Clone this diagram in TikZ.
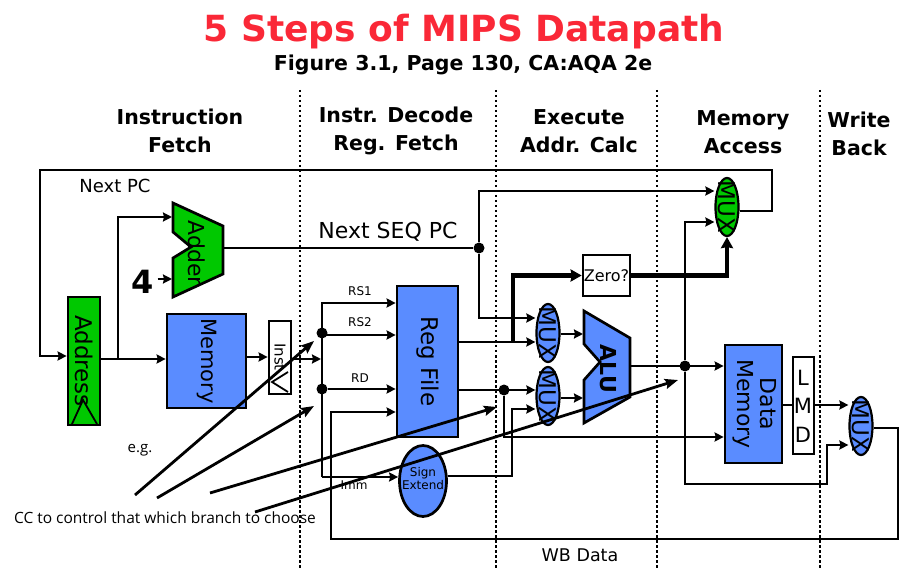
\documentclass[tikz,border=0pt]{standalone}
\usepackage{fontspec}
\usepackage{graphicx}
\usetikzlibrary{arrows.meta,shapes.geometric}
\setmainfont{DejaVu Sans}
\newfontfamily\notefont{Open Sans}
\definecolor{stepgreen}{RGB}{0,200,0}
\definecolor{stepblue}{RGB}{90,140,255}
\definecolor{titlered}{RGB}{250,40,55}
\newcommand{\vtext}[1]{\rotatebox{-90}{#1}}
\newcommand{\px}[1]{\fontsize{#1}{#1}\selectfont}
\tikzset{
  wire/.style={line width=2.7pt},
  arr/.style={wire,-{Stealth[length=9pt,width=9pt,inset=1pt]}},
  thickarr/.style={line width=4.2pt,-{Stealth[length=11pt,width=12pt,inset=1pt]}},
  note/.style={line width=2.8pt,-{Stealth[length=13pt,width=10pt,inset=2pt]}},
  stage/.style={line width=2.6pt,dash pattern=on 2.5pt off 2.5pt},
  box/.style={draw,line width=2.7pt,inner sep=0pt},
  muxnode/.style={draw,ellipse,line width=2.2pt,inner sep=0pt,minimum width=23pt,minimum height=58pt,fill=stepblue,
    label={[font=\px{23},inner sep=0pt]center:\vtext{MUX}}},
  dotnode/.style={circle,fill=black,inner sep=0pt,minimum size=11pt},
  head/.style={font=\bfseries\fontsize{20.5}{28}\selectfont,align=center},
  small/.style={font=\px{12}},
  mid/.style={font=\px{18}}
}
\begin{document}
\begin{tikzpicture}[x=1pt,y=-1pt]
    \useasboundingbox (0,0) rectangle (921,569);

    \draw[stage] (300,90) -- (300,569);
    \draw[stage] (496,90) -- (496,569);
    \draw[stage] (657,90) -- (657,569);
    \draw[stage] (820,90) -- (820,569);

    \node[font=\bfseries\px{36},text=titlered] (title) at (464,32) {5 Steps of MIPS Datapath};
    \node[font=\bfseries\px{20.5}] (subtitle) at (463,65) {Figure 3.1, Page 130, CA:AQA 2e};
    \node[head] (ifetch) at (180,131) {Instruction\\Fetch};
    \node[head] (idecode) at (396,131) {Instr. Decode\\Reg. Fetch};
    \node[head] (iexec) at (579,131) {Execute\\Addr. Calc};
    \node[head] (imem) at (743,132) {Memory\\Access};
    \node[head] (iback) at (859,134) {Write\\Back};

    \node[box,fill=stepgreen,minimum width=32pt,minimum height=128pt,font=\px{23}] (address) at (84,361) {\vtext{Address}};
    \node[box,fill=stepblue,minimum width=79pt,minimum height=94pt,font=\px{21}] (memory) at (206.5,361) {\vtext{Memory}};
    \node[box,fill=white,minimum width=22pt,minimum height=73pt] (inst) at (280,357.5) {};
    \node[font=\px{15}] (instlbl) at (280,357) {\vtext{Inst}};
    \node[box,fill=stepblue,minimum width=61pt,minimum height=151pt,font=\px{23}] (regfile) at (427.5,361.5) {\vtext{Reg File}};
    \node[draw,ellipse,line width=2.7pt,fill=stepblue,inner sep=0pt,minimum width=47pt,minimum height=71pt] (signext) at (423,481) {};
    \node[align=center,font=\px{12}] (signlbl) at (423,479) {Sign\\[1pt]Extend};
    \node[box,fill=white,minimum width=47pt,minimum height=41pt,font=\px{16}] (zero) at (606.5,275.5) {Zero?};
    \node[box,fill=stepblue,minimum width=57pt,minimum height=118pt,align=center,font=\px{22}] (datamem) at (753.5,404) {\vtext{\begin{tabular}{@{}c@{}}Data\\Memory\end{tabular}}};
    \node[box,fill=white,minimum width=21pt,minimum height=97pt] (lmd) at (803.5,405.5) {};
    \node[font=\px{21}] (lmdl) at (803,378) {L};
    \node[font=\px{21}] (lmdm) at (803,406) {M};
    \node[font=\px{21}] (lmdd) at (803,435) {D};

    \node[muxnode,fill=stepgreen] (muxpc) at (727,207) {};
    \node[muxnode] (muxa) at (548,333) {};
    \node[muxnode] (muxb) at (548,396) {};
    \node[muxnode] (muxwb) at (861,426) {};

    \coordinate (A1) at (173,203);
    \coordinate (A2) at (223,226);
    \coordinate (A3) at (223,274);
    \coordinate (A4) at (173,297);
    \coordinate (A5) at (173,258);
    \coordinate (A6) at (191,247);
    \coordinate (A7) at (173,232);
    \draw[wire,fill=stepgreen] (A1) -- (A2) -- (A3) -- (A4) -- (A5) -- (A6) -- (A7) -- cycle;
    \node[font=\px{22}] (adderlbl) at (197,253) {\vtext{Adder}};

    \coordinate (B1) at (584,311);
    \coordinate (B2) at (630,338);
    \coordinate (B3) at (630,397);
    \coordinate (B4) at (584,423);
    \coordinate (B5) at (584,380);
    \coordinate (B6) at (600,362);
    \coordinate (B7) at (584,344);
    \draw[wire,fill=stepblue] (B1) -- (B2) -- (B3) -- (B4) -- (B5) -- (B6) -- (B7) -- cycle;
    \node[font=\bfseries\px{22}] (alulbl) at (608,369) {\vtext{ALU}};

    \draw[line width=1.8pt] (72,424) -- (83,400) -- (97,424);
    \draw[line width=1.8pt] (288,372) -- (272,382) -- (288,392);

    \node[font=\bfseries\px{32}] (four) at (143,282) {4};
    \node[dotnode] (dotseq) at (479,248) {};
    \node[dotnode] (dotrs) at (322,333) {};
    \node[dotnode] (dotrd) at (322,389) {};
    \node[dotnode] (dotreg) at (504,390) {};
    \node[dotnode] (dotalu) at (685,366) {};

    \coordinate (C1) at (40,170);
    \coordinate (C2) at (772,170);
    \coordinate (C3) at (772,211);
    \coordinate (C4) at (118,359);
    \coordinate (C5) at (322,303);
    \coordinate (C6) at (322,477);
    \coordinate (C7) at (898,428);
    \coordinate (C8) at (898,539);
    \coordinate (C9) at (331,539);
    \coordinate (C10) at (512,476);
    \coordinate (C11) at (513,342);
    \coordinate (C12) at (827,484);

    \draw[arr] (muxpc.east |- C3) -- (C3) -- (C2) -- (C1) -- (40,356) -- (address.west |- 0,356);
    \draw[arr] (address.east |- C4) -- (memory.west |- C4);
    \draw[arr] (C4) |- (172,217);
    \draw[arr] (four.east |- 0,279) -- (172,279);
    \draw[arr] (memory.east |- 0,357) -- (inst.west |- 0,357);
    \draw[arr] (inst.east |- 0,359) -- (321,359);
    \draw[arr] (C6) |- (regfile.west |- C5);
    \draw[arr] (dotrs) |- (regfile.west |- 0,335);
    \draw[arr] (dotrd) -- (regfile.west |- dotrd);
    \draw[arr] (C6) -- (signext.west |- C6);
    \draw[arr] (muxwb.east |- C7) -- (C7) -- (C8) -- (C9) |- (regfile.west |- 0,412);
    \draw[wire] (223,248) -- (dotseq);
    \draw[arr] (dotseq) |- (muxpc.west |- 0,191);
    \draw[arr] (dotseq) |- (muxa.west |- 0,318);
    \draw[arr] (regfile.east |- C11) -- (muxa.west |- C11);
    \draw[arr] (regfile.east |- dotreg) -- (muxb.west |- dotreg);
    \draw[thickarr] (C11) |- (zero.west);
    \draw[arr] (dotreg) |- (datamem.west |- 0,437);
    \draw[arr] (signext.east |- C10) -- (C10) |- (muxb.west |- 0,409);
    \draw[thickarr] (zero.east) -| (muxpc.south);
    \draw[arr] (muxa.east |- 0,334) -- (583,334);
    \draw[arr] (muxb.east |- 0,398) -- (583,398);
    \draw[arr] (B2 |- dotalu) -- (datamem.west |- dotalu);
    \draw[arr] (dotalu) |- (muxpc.west |- 0,222);
    \draw[arr] (dotalu) |- (C12) |- (muxwb.west |- 0,445);
    \draw[wire] (datamem.east |- 0,405) -- (lmd.west |- 0,405);
    \draw[arr] (lmd.east |- 0,405) -- (muxwb.west |- 0,405);

    \node[mid] (nextpc) at (115,186) {Next PC};
    \node[font=\px{22}] (nextseq) at (388,232) {Next SEQ PC};
    \node[small] (rsone) at (360,291) {RS1};
    \node[small] (rstwo) at (360,322) {RS2};
    \node[small] (rdlbl) at (360,378) {RD};
    \node[small] (immlbl) at (354,485) {Imm};
    \node[font=\px{17.5}] (wbdata) at (580,555) {WB Data};

    \node[font=\notefont\px{15}] (eg) at (140,450) {e.g.};
    \node[font=\notefont\px{15.5}] (cc) at (165,518) {CC to control that which branch to choose};
    \coordinate (D1) at (135,495);
    \coordinate (D2) at (157,498);
    \coordinate (D3) at (210,493);
    \coordinate (D4) at (255,512);
    \coordinate (E1) at (314,341);
    \coordinate (E2) at (314,406);
    \coordinate (E3) at (497,407);
    \coordinate (E4) at (678,380);
    \draw[note] (D1) -- (E1);
    \draw[note] (D2) -- (E2);
    \draw[note] (D3) -- (E3);
    \draw[note] (D4) -- (E4);
\end{tikzpicture}
\end{document}
